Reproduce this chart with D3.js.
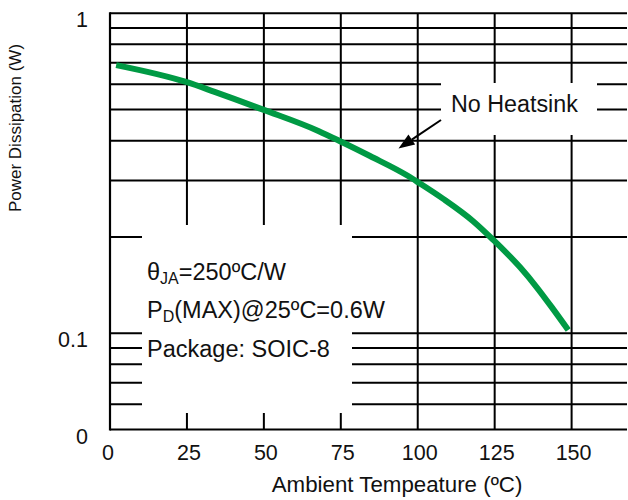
<!DOCTYPE html>
<html>
<head>
<meta charset="utf-8">
<script src="https://cdn.jsdelivr.net/npm/d3@7"></script>
<style>
  html, body { margin: 0; padding: 0; background: #fff; }
  svg { display: block; }
  text { font-family: "Liberation Sans", Arial, sans-serif; fill: #111; }
</style>
</head>
<body>
<svg id="chart" width="628" height="500"></svg>
<script>
// ---- data ----
const temps = [2, 25, 34, 50, 67.7, 75.3, 84.5, 96.9, 100.2, 108.3, 118, 124.5, 133.2, 138.6, 144, 148.9];
const power = [0.689, 0.609, 0.568, 0.499, 0.429, 0.396, 0.358, 0.310, 0.296, 0.263, 0.224, 0.196, 0.161, 0.1395, 0.119, 0.1024];
const xTicks = [0, 25, 50, 75, 100, 125, 150];
const xTickLabels = ["0", "25", "50", "75", "100", "125", "150"];
const yGrid = [1, 0.9, 0.8, 0.7, 0.6, 0.5, 0.4, 0.3, 0.2, 0.1, 0.09, 0.08, 0.07, 0.06, 0.05];
const yTicks = [1, 0.1, 0.05];
const yTickLabels = ["1", "0.1", "0"];
const xTitle = "Ambient Tempeature (ºC)";
const yTitle = "Power Dissipation (W)";
const curveLabel = "No Heatsink";

const svg = d3.select("#chart");
const x = d3.scaleLinear().domain([0, 168]).range([110, 627]);
const y = d3.scaleLog().domain([0.05, 1]).range([429.6, 13.3]);

const g = svg.append("g");

// vertical grid lines
g.selectAll("line.vg").data(xTicks.slice(1)).enter().append("line")
  .attr("x1", d => x(d)).attr("x2", d => x(d))
  .attr("y1", y(1)).attr("y2", y(0.05))
  .attr("stroke", "#000").attr("stroke-width", 2);

// horizontal grid lines
g.selectAll("line.hg").data(yGrid).enter().append("line")
  .attr("x1", x(0)).attr("x2", x(168))
  .attr("y1", d => y(d)).attr("y2", d => y(d))
  .attr("stroke", "#000").attr("stroke-width", 2);

// left axis
g.append("line").attr("x1", x(0)).attr("x2", x(0)).attr("y1", y(1) - 1).attr("y2", y(0.05) + 1)
  .attr("stroke", "#000").attr("stroke-width", 2.2);

// white masking boxes
g.append("rect").attr("x", 142).attr("y", 225).attr("width", 210).attr("height", 188).attr("fill", "#fff");
g.append("rect").attr("x", 441).attr("y", 83).attr("width", 156).attr("height", 52).attr("fill", "#fff");

// curve
const line = d3.line().x(d => x(d[0])).y(d => y(d[1])).curve(d3.curveMonotoneX);
g.append("path").datum(temps.map((t, i) => [t, power[i]]))
  .attr("d", line).attr("fill", "none")
  .attr("stroke", "#009a44").attr("stroke-width", 6);

// arrow
const tail = [441, 120], tip = [398.5, 148.5];
const ang = Math.atan2(tip[1] - tail[1], tip[0] - tail[0]);
const hl = 16, hw = 6;
const base = [tip[0] - hl * Math.cos(ang), tip[1] - hl * Math.sin(ang)];
g.append("line").attr("x1", tail[0]).attr("y1", tail[1]).attr("x2", base[0]).attr("y2", base[1])
  .attr("stroke", "#000").attr("stroke-width", 2);
g.append("path").attr("d", `M${tip[0]},${tip[1]} L${base[0] + hw * Math.sin(ang)},${base[1] - hw * Math.cos(ang)} L${base[0] - hw * Math.sin(ang)},${base[1] + hw * Math.cos(ang)} Z`)
  .attr("fill", "#000");

// labels
g.append("text").attr("x", 451).attr("y", 112).attr("font-size", 23.3).text(curveLabel);

const t1 = g.append("text").attr("x", 147).attr("y", 280).attr("font-size", 23.5);
t1.append("tspan").text("θ");
t1.append("tspan").attr("font-size", 16).attr("dy", 4).text("JA");
t1.append("tspan").attr("dy", -4).text("=250ºC/W");

const t2 = g.append("text").attr("x", 147).attr("y", 318).attr("font-size", 23.5);
t2.append("tspan").text("P");
t2.append("tspan").attr("font-size", 16).attr("dy", 4).text("D");
t2.append("tspan").attr("dy", -4).text("(MAX)@25ºC=0.6W");

g.append("text").attr("x", 147).attr("y", 357).attr("font-size", 23.5).text("Package: SOIC-8");

// y tick labels
g.selectAll("text.yt").data(yTicks).enter().append("text")
  .attr("x", 88).attr("y", d => y(d) + 14)
  .attr("text-anchor", "end").attr("font-size", 21.5)
  .text((d, i) => yTickLabels[i]);

// x tick labels
g.selectAll("text.xt").data(xTicks).enter().append("text")
  .attr("x", d => x(d) + (d === 0 ? -2 : 2)).attr("y", 460)
  .attr("text-anchor", "middle").attr("font-size", 21.5)
  .text((d, i) => xTickLabels[i]);

// axis titles
g.append("text").attr("x", 397).attr("y", 492).attr("text-anchor", "middle").attr("font-size", 22.3).text(xTitle);
g.append("text").attr("transform", "translate(21,128) rotate(-90)").attr("text-anchor", "middle")
  .attr("font-size", 17).text(yTitle);
</script>
</body>
</html>
